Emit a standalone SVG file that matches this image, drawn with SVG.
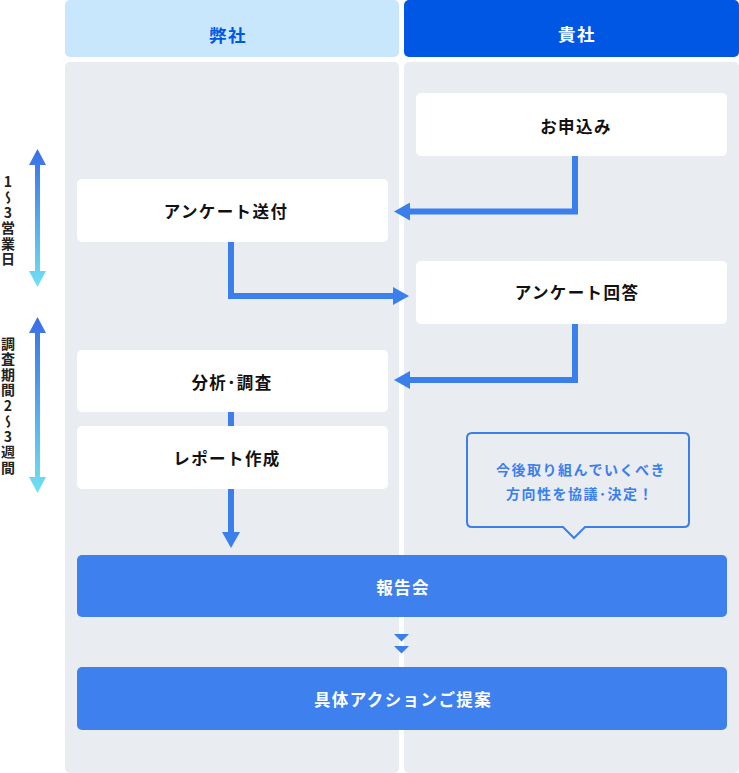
<svg xmlns="http://www.w3.org/2000/svg" width="739" height="773" viewBox="0 0 739 773">
<style>
.t{font-family:"Noto Sans CJK JP","Noto Sans",sans-serif;font-weight:700;dominant-baseline:central;text-anchor:middle}
.n{font-size:16.5px;letter-spacing:1.4px;fill:#111}
.w{font-size:16.5px;letter-spacing:1.4px;fill:#fff}
.h{font-size:17.5px;letter-spacing:1.5px}
.b{font-size:14px;letter-spacing:1.5px;fill:#3b7fec}
.v{font-size:14px;fill:#222;writing-mode:vertical-rl;text-orientation:upright;letter-spacing:1.5px}
.box{fill:#fff}
.blue{fill:#3d80ee}
.ln{fill:none;stroke:#3b7fec;stroke-width:6}
</style>
<defs>
<marker id="ah" markerUnits="userSpaceOnUse" markerWidth="16" markerHeight="18" viewBox="0 0 16 18" refX="0" refY="9" orient="auto">
<path d="M0,0 L16,9 L0,18 Z" fill="#3b7fec"/>
</marker>
<linearGradient id="g1" gradientUnits="objectBoundingBox" x1="0" y1="0" x2="0" y2="1">
<stop offset="0" stop-color="#3a6ee8"/>
<stop offset="1" stop-color="#6fe1f1"/>
</linearGradient>
</defs>
<rect width="739" height="773" fill="#fff"/>
<g id="lanes">
<rect x="65" y="0" width="334" height="57" rx="5" fill="#c8e6fc"/>
<rect x="404" y="0" width="335" height="57" rx="5" fill="#0057e4"/>
<rect x="65" y="62" width="334" height="711" rx="5" fill="#e9ecf1"/>
<rect x="404" y="62" width="335" height="711" rx="5" fill="#e9ecf1"/>
<text class="t h" x="228" y="34.5" style="fill:#0057e4">弊社</text>
<text class="t h" x="577" y="33" style="fill:#fff">貴社</text>
</g>
<g id="timeline">
<path d="M37.5,149 L46,165 L40,165 L40,271 L46,271 L37.5,287 L29,271 L35,271 L35,165 L29,165 Z" fill="url(#g1)"/>
<path d="M37.5,317 L46,333 L40,333 L40,477 L46,477 L37.5,493 L29,477 L35,477 L35,333 L29,333 Z" fill="url(#g1)"/>
<text class="t v" x="8" y="221">1～3営業日</text>
<text class="t v" x="8" y="406">調査期間2～3週間</text>
</g>
<g id="connectors">
<path class="ln" d="M575,156 V211.5 H410" marker-end="url(#ah)"/>
<path class="ln" d="M231,242 V296 H393" marker-end="url(#ah)"/>
<path class="ln" d="M575,324 V380 H410" marker-end="url(#ah)"/>
<path class="ln" d="M231,412 V426"/>
<path class="ln" d="M231,489 V532" marker-end="url(#ah)"/>
<path d="M394,634 H409 L401.5,641.5 Z M394,646 H409 L401.5,653.5 Z" fill="#3b7fec"/>
</g>
<g id="n-apply">
<rect class="box" x="416" y="93" width="311" height="63" rx="5"/>
<text class="t n" x="576" y="126">お申込み</text>
</g>
<g id="n-send">
<rect class="box" x="77" y="179" width="311" height="63" rx="5"/>
<text class="t n" x="226" y="210.5">アンケート送付</text>
</g>
<g id="n-answer">
<rect class="box" x="416" y="261" width="311" height="63" rx="5"/>
<text class="t n" x="577" y="292">アンケート回答</text>
</g>
<g id="n-analysis">
<rect class="box" x="77" y="350" width="311" height="62" rx="5"/>
<text class="t n" x="232" y="381.5">分析･調査</text>
</g>
<g id="n-report">
<rect class="box" x="77" y="426" width="311" height="63" rx="5"/>
<text class="t n" x="227" y="458">レポート作成</text>
</g>
<g id="n-bubble">
<path d="M472,433 H684 Q689,433 689,438 V522 Q689,527 684,527 H585 L574,538 L563,527 H472 Q467,527 467,522 V438 Q467,433 472,433 Z" fill="#e9ecf1" stroke="#3b7fec" stroke-width="2"/>
<text class="t b" x="581" y="469">今後取り組んでいくべき</text>
<text class="t b" x="580" y="493">方向性を協議･決定！</text>
</g>
<g id="n-meeting">
<rect class="blue" x="77" y="555" width="650" height="62" rx="5"/>
<text class="t w" x="403" y="587">報告会</text>
</g>
<g id="n-proposal">
<rect class="blue" x="77" y="667" width="650" height="63" rx="5"/>
<text class="t w" x="403" y="699">具体アクションご提案</text>
</g>
</svg>
